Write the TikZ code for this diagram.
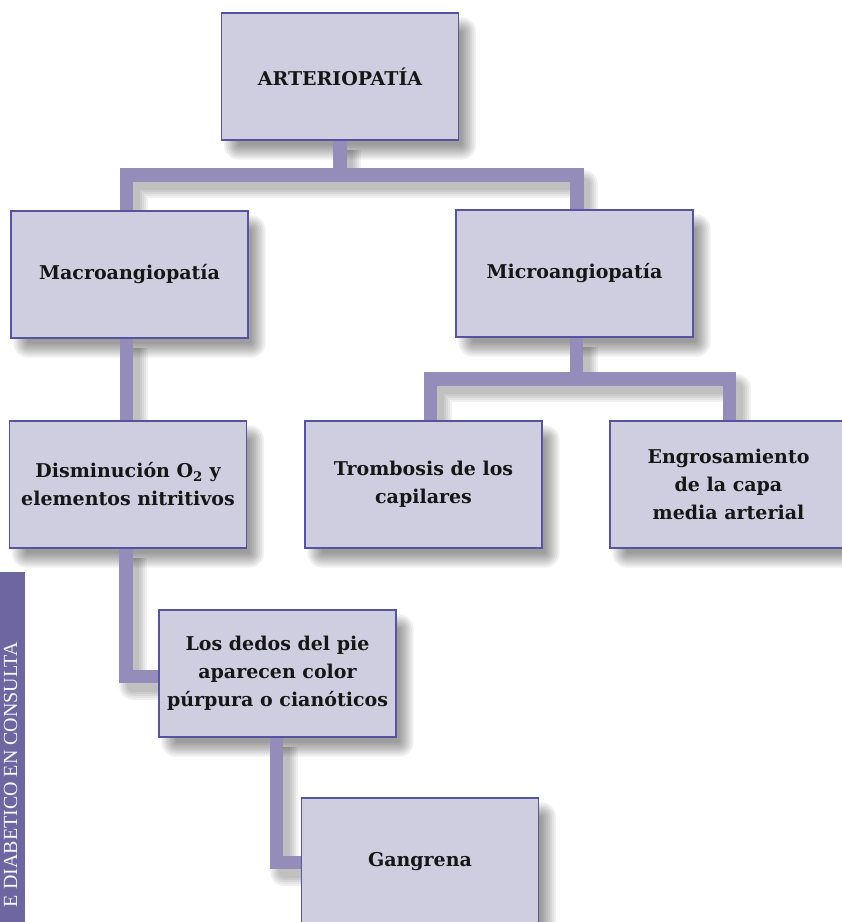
\documentclass[tikz,border=0pt]{standalone}
\usepackage{fontspec}
\setmainfont{DejaVu Serif}
\newfontfamily\sidefont{Liberation Serif}
\definecolor{boxfill}{RGB}{207,206,224}
\definecolor{boxline}{RGB}{88,83,160}
\definecolor{connc}{RGB}{148,141,185}
\definecolor{sidec}{RGB}{110,102,160}
\definecolor{sidetext}{RGB}{246,245,250}
\definecolor{textc}{RGB}{22,22,22}
\pgfdeclarelayer{shadowlayer}
\pgfdeclarelayer{connlayer}
\pgfsetlayers{shadowlayer,connlayer,main}
\tikzset{
  card/.style={draw=boxline, line width=1.4pt, fill=boxfill, minimum width=237pt,
    minimum height=127pt, inner sep=0pt, align=center, text=textc,
    font=\fontsize{19}{28}\selectfont\bfseries},
  conn/.style={draw=connc, line width=13.5pt, line join=miter, line cap=butt},
}
\newcommand{\cardshadow}[1]{%
  \begin{pgfonlayer}{shadowlayer}
  \foreach \e/\rr in {-7/1,-5/3,-3/5,-1/7,1/9,3/11,5/13,7/15}{%
    \fill[black, opacity=0.06, rounded corners=\rr pt]
      ([shift={(10-\e,12+\e)}]#1.south west) rectangle ([shift={(10+\e,12-\e)}]#1.north east);
  }
  \end{pgfonlayer}}
\newcommand{\connector}[1]{%
  \begin{pgfonlayer}{shadowlayer}
  \foreach \w in {12,16,20,24,28}{%
    \draw[black, opacity=0.055, line width=\w pt, line join=round, line cap=butt,
      transform canvas={shift={(7,9)}}] #1;
  }
  \end{pgfonlayer}
  \begin{pgfonlayer}{connlayer}
    \draw[conn] #1;
  \end{pgfonlayer}}
\begin{document}
\begin{tikzpicture}[x=1pt,y=-1pt]
\useasboundingbox (0,0) rectangle (842,922);
% sidebar
\fill[sidec] (0,572) rectangle (25,922);
\node[rotate=90, anchor=base east, text=sidetext, inner sep=0pt,
  font=\sidefont\fontsize{20}{20}\selectfont] (side) at (17,642) {E DIABETICO EN CONSULTA};
% boxes
\node[card] (top) at (340,76.5) {ARTERIOPATÍA};
\node[card] (macro) at (129.5,274.5) {Macroangiopatía};
\node[card] (micro) at (574.5,273.5) {Microangiopatía};
\node[card] (dism) at (128,484.5) {Disminución O\textsubscript{2} y\\elementos nitritivos};
\node[card] (trom) at (423.5,484.5) {Trombosis de los\\capilares};
\node[card] (engr) at (728.5,484.5) {Engrosamiento\\de la capa\\media arterial};
\node[card] (dedos) at (277.5,673.5) {Los dedos del pie\\aparecen color\\púrpura o cianóticos};
\node[card] (gang) at (420,861.5) {Gangrena};
\foreach \n in {top,macro,micro,dism,trom,engr,dedos,gang}{\cardshadow{\n}}
% connector coordinates
\coordinate (bl) at (126.5,175);
\coordinate (br) at (577,175);
\coordinate (bt) at (340,170);
\coordinate (c2) at (126,676.5);
\coordinate (ml) at (430.5,379);
\coordinate (mr) at (729.5,379);
\coordinate (mc) at (576.5,374);
\coordinate (c3) at (276.5,862.5);
% connectors
\connector{(top.south) -- (bt)}
\connector{(macro.north -| bl) -- (bl) -- (br) -- (micro.north -| br)}
\connector{(macro.south -| bl) -- (dism.north -| bl)}
\connector{(dism.south -| c2) -- (c2) -- (dedos.west |- c2)}
\connector{(micro.south -| mc) -- (mc)}
\connector{(trom.north -| ml) -- (ml) -- (mr) -- (engr.north -| mr)}
\connector{(dedos.south -| c3) -- (c3) -- (gang.west |- c3)}
\end{tikzpicture}
\end{document}
